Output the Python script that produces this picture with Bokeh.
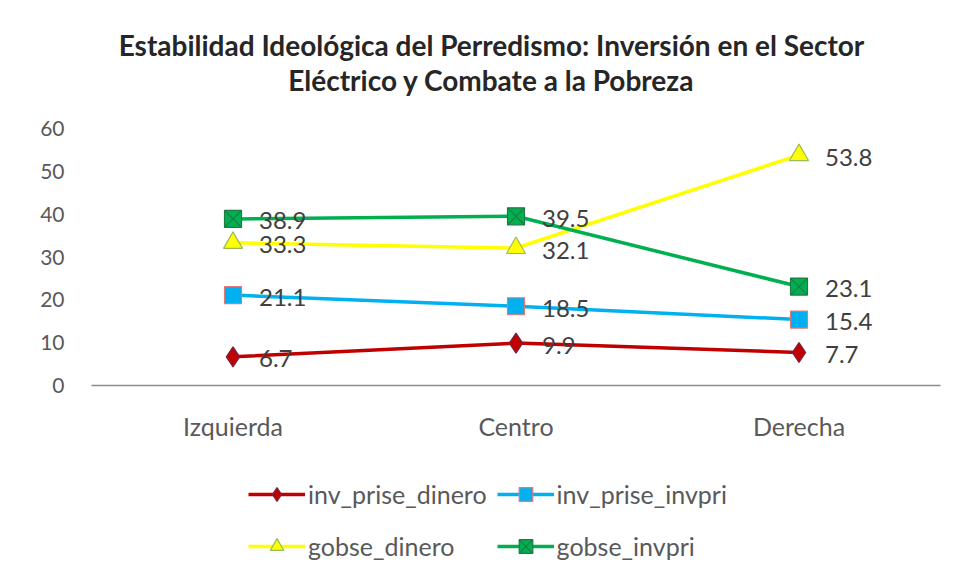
from bokeh.plotting import figure
from bokeh.layouts import column
from bokeh.models import Range1d, FactorRange, Legend, LegendItem, FixedTicker
from bokeh.core.properties import value
from bokeh.embed import file_html
from bokeh.resources import INLINE

categories = ["Izquierda", "Centro", "Derecha"]
inv_prise_dinero = [6.7, 9.9, 7.7]
inv_prise_invpri = [21.1, 18.5, 15.4]
gobse_dinero = [33.3, 32.1, 53.8]
gobse_invpri = [38.9, 39.5, 23.1]
y_ticks = [0, 10, 20, 30, 40, 50, 60]
title_lines = ["Estabilidad Ideológica del Perredismo: Inversión en el Sector",
               "Eléctrico y Combate a la Pobreza"]

FONT = "Lato"
W = 951
FL, FR = 91, 940          # frame left / right in page pixels (aligned across the column)
HEAD_H = 106

# ---- title block (frame aligned to main frame, so x range in page pixels) ----
head = figure(width=W, height=HEAD_H, output_backend="svg", toolbar_location=None,
              x_range=Range1d(FL, FR), y_range=Range1d(HEAD_H, 0),
              x_axis_type=None, y_axis_type=None, min_border=0,
              min_border_left=FL, min_border_right=W - FR)
head.outline_line_color = None
head.grid.grid_line_color = None
head.text(x=[491, 491], y=[44, 79], text=title_lines, text_font=value(FONT),
          text_font_size="28px", text_font_style="bold", text_color="#262626",
          text_align="center", text_baseline="middle")

# ---- main chart ----
p = figure(width=W, height=354, output_backend="svg", toolbar_location=None,
           x_range=FactorRange(*categories, range_padding=0), y_range=Range1d(0, 60),
           min_border_left=FL, min_border_right=W - FR, min_border_top=128 - HEAD_H,
           min_border_bottom=354 - (385 - HEAD_H))
p.outline_line_color = None
p.xgrid.grid_line_color = None
p.ygrid.grid_line_color = None

p.yaxis.ticker = FixedTicker(ticks=y_ticks)
p.yaxis.axis_line_color = None
p.yaxis.major_tick_line_color = None
p.yaxis.minor_tick_line_color = None
p.yaxis.major_tick_out = 0
p.yaxis.major_tick_in = 0
p.yaxis.major_label_standoff = 27
p.yaxis.major_label_text_font = FONT
p.yaxis.major_label_text_font_size = "21px"
p.yaxis.major_label_text_color = "#595959"

p.xaxis.axis_line_color = "#8a8a8a"
p.xaxis.axis_line_width = 1.5
p.xaxis.major_tick_line_color = None
p.xaxis.major_tick_out = 0
p.xaxis.major_tick_in = 0
p.xaxis.major_label_standoff = 25
p.xaxis.major_label_text_font = FONT
p.xaxis.major_label_text_font_size = "25px"
p.xaxis.major_label_text_color = "#595959"

series = [
    ("inv_prise_dinero", inv_prise_dinero, "#C00000", "diamond", 20, "#7a2040", "#C00000"),
    ("inv_prise_invpri", inv_prise_invpri, "#00B0F0", "square", 17, "#e07878", "#00B0F0"),
    ("gobse_dinero", gobse_dinero, "#FFFF00", "triangle", 19, "#9BBB59", "#FFFF00"),
    ("gobse_invpri", gobse_invpri, "#00B050", "square_x", 17, "#1f7a45", "#00B050"),
]

# ---- legend block (its plotting area is scrolled away from the data) ----
LEG_H = 569 - (HEAD_H + 354)
leg = figure(width=W, height=LEG_H, output_backend="svg", toolbar_location=None,
             x_range=p.x_range, y_range=Range1d(1000, 1001),
             x_axis_type=None, y_axis_type=None, min_border=0,
             min_border_left=FL, min_border_right=W - FR)
leg.outline_line_color = None
leg.grid.grid_line_color = None

items = []
for name, vals, col, marker, size, lc, fc in series:
    p.line(categories, vals, line_color=col, line_width=3.5)
    p.scatter(categories, vals, marker=marker, size=size, fill_color=fc,
              line_color=lc, line_width=1.2)
    p.text(categories, vals, text=[f"{v:.1f}" for v in vals], x_offset=26, y_offset=2,
           text_font=value(FONT), text_font_size="24px", text_color="#404040",
           text_baseline="middle", text_align="left")
    ln = leg.line(categories, vals, line_color=col, line_width=3.5)
    sc = leg.scatter(categories, vals, marker=marker, size=size, fill_color=fc,
                     line_color=lc, line_width=1.2)
    items.append(LegendItem(label=name, renderers=[ln, sc]))

legend = Legend(items=items, orientation="horizontal", ncols=2,
                location=(248 - FL, 2), label_text_font=FONT, label_text_font_size="25px",
                label_text_color="#595959", glyph_width=57, glyph_height=34,
                label_height=42, label_standoff=3, spacing=10, padding=0, margin=0,
                border_line_color=None, background_fill_alpha=0)
leg.add_layout(legend, "center")

layout = column(head, p, leg, spacing=0)
open("out.html", "w").write(file_html(layout, INLINE))
